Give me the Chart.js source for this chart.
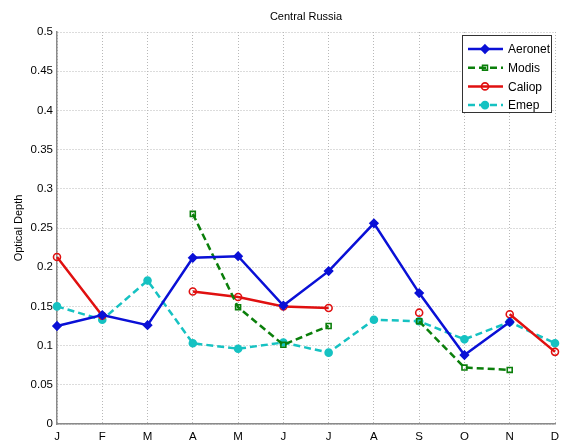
<!DOCTYPE html>
<html>
<head>
<meta charset="utf-8">
<script src="https://cdn.jsdelivr.net/npm/chart.js@4"></script>
<style>
  html, body { margin: 0; padding: 0; background: #fff; }
  #wrap { width: 566px; height: 446px; }
</style>
</head>
<body>
<div id="wrap"><canvas id="aod-chart" width="566" height="446"></canvas></div>
<script>
// months along the bottom
const months = ["J", "F", "M", "A", "M", "J", "J", "A", "S", "O", "N", "D"];

// values (null = no data that month)
const aeronet = [0.125, 0.139, 0.126, 0.212, 0.214, 0.151, 0.195, 0.256, 0.167, 0.088, 0.130, null];
const modis   = [null, null, null, 0.268, 0.149, 0.101, 0.125, null, 0.131, 0.072, 0.069, null];
const caliop  = [0.213, 0.138, null, 0.169, 0.162, 0.150, 0.148, null, 0.142, null, 0.140, 0.092];
const emep    = [0.150, 0.133, 0.183, 0.103, 0.096, 0.104, 0.091, 0.133, 0.131, 0.108, 0.130, 0.103];

const FONT = "'Liberation Sans', Arial, sans-serif";

// MATLAB-style legend box: line + marker + label
const boxLegend = {
    id: "boxLegend",
    afterDraw(chart) {
        const c = chart.ctx;
        const x0 = 462, y0 = 35, w = 89, h = 77;
        c.save();
        c.fillStyle = "#fff";
        c.fillRect(x0, y0, w, h);
        c.strokeStyle = "#333";
        c.lineWidth = 1;
        c.strokeRect(x0 + 0.5, y0 + 0.5, w, h);
        c.font = "12px " + FONT;
        c.textBaseline = "middle";
        chart.data.datasets.forEach((ds, i) => {
            const y = y0 + 14 + i * 18.7;
            const mx = x0 + 23;
            c.strokeStyle = ds.borderColor;
            c.lineWidth = ds.borderWidth;
            c.setLineDash(ds.borderDash || []);
            c.beginPath();
            c.moveTo(x0 + 6, y);
            c.lineTo(x0 + 41, y);
            c.stroke();
            c.setLineDash([]);
            c.fillStyle = ds.pointBackgroundColor;
            c.strokeStyle = ds.borderColor;
            c.lineWidth = ds.pointBorderWidth;
            c.beginPath();
            const r = ds.pointRadius;
            if (ds.pointStyle === "rectRot") {
                c.moveTo(mx, y - r); c.lineTo(mx + r, y);
                c.lineTo(mx, y + r); c.lineTo(mx - r, y);
                c.closePath();
            } else if (ds.pointStyle === "rect") {
                const q = r * 0.7;
                c.rect(mx - q, y - q, 2 * q, 2 * q);
            } else {
                c.arc(mx, y, r, 0, Math.PI * 2);
            }
            if (ds.pointBackgroundColor !== "transparent") c.fill();
            c.stroke();
            c.fillStyle = "#000";
            c.fillText(ds.label, x0 + 46, y + 1);
        });
        c.restore();
    }
};

function series(label, data, color, dash, style, fill) {
    return {
        label: label,
        data: data,
        borderColor: color,
        backgroundColor: color,
        borderWidth: 2.5,
        borderDash: dash,
        pointStyle: style,
        pointRadius: style === "rectRot" ? 4 : 3.5,
        pointBorderWidth: 1.6,
        pointBackgroundColor: fill,
        pointBorderColor: color,
        tension: 0,
        spanGaps: false,
        fill: false
    };
}

new Chart(document.getElementById("aod-chart").getContext("2d"), {
    type: "line",
    data: {
        labels: months,
        datasets: [
            series("Aeronet", aeronet, "#0a10d6", [], "rectRot", "#0a10d6"),
            series("Modis", modis, "#0b7f0b", [7, 4], "rect", "transparent"),
            series("Caliop", caliop, "#e01010", [], "circle", "transparent"),
            series("Emep", emep, "#16c2c2", [7, 4], "circle", "#16c2c2")
        ]
    },
    options: {
        responsive: false,
        animation: false,
        layout: { padding: { top: 32, right: 11, left: 0, bottom: 0 } },
        plugins: {
            legend: { display: false },
            tooltip: { enabled: false },
            title: { display: false }
        },
        scales: {
            x: {
                offset: false,
                grid: { color: "#b8b8b8", lineWidth: 1, drawTicks: false },
                border: { display: true, color: "#8a8a8a", width: 1.5, dash: [1, 2] },
                ticks: { color: "#000", font: { family: FONT, size: 11.5 }, padding: 6, maxRotation: 0, autoSkip: false },
                afterFit(s) { s.height = 22; }
            },
            y: {
                min: 0,
                max: 0.5,
                grid: { color: "#b8b8b8", lineWidth: 1, drawTicks: false },
                border: { display: true, color: "#8a8a8a", width: 1.5, dash: [1, 2] },
                ticks: {
                    stepSize: 0.05,
                    color: "#000",
                    font: { family: FONT, size: 11.5 },
                    padding: 4,
                    callback: v => String(Number(v.toFixed(2)))
                },
                title: {
                    display: true,
                    text: "Optical Depth",
                    color: "#000",
                    font: { family: FONT, size: 11 },
                    padding: { top: 12, bottom: 0 }
                },
                afterFit(s) { s.width = 57; }
            }
        }
    },
    plugins: [
        {
            id: "plotTitle",
            afterDraw(chart) {
                const c = chart.ctx;
                const a = chart.chartArea;
                c.save();
                c.font = "11px " + FONT;
                c.fillStyle = "#000";
                c.textAlign = "center";
                c.textBaseline = "middle";
                c.fillText("Central Russia", (a.left + a.right) / 2, 17);
                c.restore();
            }
        },
        boxLegend
    ]
});
</script>
</body>
</html>
